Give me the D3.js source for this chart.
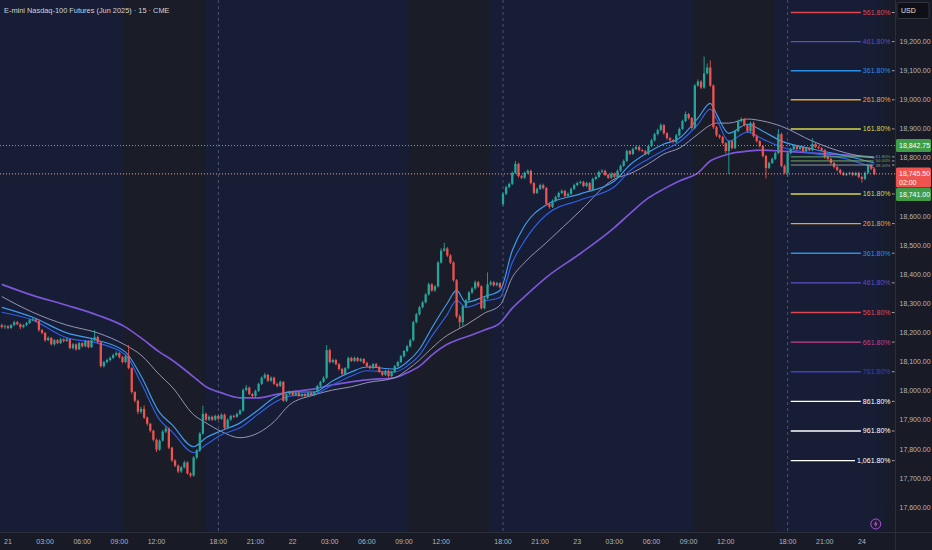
<!DOCTYPE html>
<html><head><meta charset="utf-8">
<script src="https://cdn.jsdelivr.net/npm/d3@7/dist/d3.min.js"></script>
<style>
html,body{margin:0;padding:0;background:#181b26;overflow:hidden}
svg{display:block;font-family:"Liberation Sans Narrow","Liberation Sans",Arial,sans-serif}
</style></head><body>
<svg id="c" width="932" height="550"></svg>
<script>
const title = "E-mini Nasdaq-100 Futures (Jun 2025) · 15 · CME";
const startDay = 20, startMinute = 23*60+30;   // first bar: 20th, 23:30 (15-min bars)

const opens = [18226,18219,18222,18216,18226,18236,18229,18219,18226,18233,
18243,18246,18240,18209,18199,18174,18182,18160,18174,18164,
18177,18171,18177,18147,18160,18143,18164,18153,18171,18150,
18174,18185,18167,18085,18099,18106,18113,18123,18130,18116,
18099,18119,18078,17996,17966,17928,17938,17908,17887,17863,
17832,17798,17829,17860,17870,17805,17761,17743,17723,17737,
17754,17716,17709,17771,17795,17853,17921,17901,17911,17901,
17914,17904,17918,17873,17901,17914,17911,17921,17932,18003,
18011,17989,17982,18000,18024,18045,18055,18035,18045,18024,
18017,18031,17966,17989,17996,17986,17993,17982,17989,17982,
17993,17986,17996,18017,18031,18045,18140,18099,18106,18092,
18075,18058,18078,18113,18103,18113,18103,18109,18096,18085,
18078,18092,18082,18065,18055,18069,18051,18065,18085,18099,
18119,18137,18153,18174,18236,18263,18287,18304,18331,18366,
18345,18359,18441,18482,18489,18465,18441,18380,18256,18236,
18290,18311,18338,18352,18373,18359,18284,18318,18366,18373,
18363,18370,18642,18677,18700,18711,18749,18780,18738,18732,
18749,18756,18714,18680,18694,18707,18697,18643,18632,18653,
18666,18680,18687,18670,18677,18694,18707,18714,18718,18704,
18714,18690,18728,18735,18752,18756,18742,18732,18746,18735,
18756,18773,18790,18824,18814,18831,18838,18827,18824,18814,
18841,18861,18882,18896,18913,18885,18868,18861,18855,18878,
18900,18927,18951,18937,18903,19049,19063,19042,19091,19111,
19049,18906,18878,18872,18851,18824,18858,18834,18892,18927,
18934,18913,18892,18920,18875,18858,18841,18807,18766,18783,
18797,18817,18882,18773,18749,18817,18831,18841,18831,18838,
18824,18834,18827,18848,18838,18834,18827,18803,18797,18783,
18769,18759,18749,18742,18746,18749,18742,18749,18735,18728,
18749,18776,18763];

const highs = [18231,18228,18226,18230,18241,18240,18232,18229,18237,18248,
18252,18250,18244,18213,18202,18187,18185,18178,18178,18182,
18181,18184,18180,18164,18163,18168,18167,18175,18174,18178,
18209,18190,18170,18103,18111,18118,18128,18136,18133,18120,
18124,18157,18081,17999,17970,17945,17950,17912,17890,17866,
17836,17833,17866,17878,17874,17808,17765,17747,17742,17760,
17758,17720,17775,17800,17858,17949,17925,17916,17915,17918,
17918,17923,17922,17905,17918,17918,17925,17937,18008,18020,
18015,17993,18004,18028,18050,18062,18058,18050,18049,18028,
18036,18034,17994,18001,18000,17998,17997,17993,17993,17997,
17997,18000,18021,18035,18050,18157,18145,18111,18110,18096,
18079,18082,18118,18117,18118,18117,18114,18113,18100,18089,
18096,18096,18086,18069,18073,18073,18069,18089,18103,18123,
18141,18158,18179,18241,18268,18292,18309,18336,18372,18370,
18364,18446,18490,18509,18494,18470,18445,18384,18262,18295,
18316,18343,18357,18379,18378,18363,18323,18407,18379,18378,
18375,18374,18682,18705,18716,18754,18790,18784,18742,18754,
18761,18760,18718,18699,18712,18712,18701,18647,18658,18671,
18685,18692,18691,18682,18699,18712,18719,18723,18722,18719,
18718,18733,18740,18757,18762,18760,18746,18751,18750,18761,
18778,18795,18829,18828,18836,18843,18842,18831,18828,18846,
18866,18887,18901,18920,18917,18889,18872,18865,18883,18905,
18932,18960,18955,18941,19055,19070,19067,19149,19125,19135,
19053,18910,18882,18876,18855,18862,18862,18897,18932,18940,
18938,18917,18925,18926,18880,18862,18845,18811,18788,18802,
18822,18900,18887,18778,18822,18836,18848,18845,18843,18842,
18839,18838,18868,18852,18842,18838,18831,18807,18801,18787,
18773,18763,18753,18750,18753,18753,18753,18753,18739,18754,
18781,18780,18767];

const lows = [18214,18213,18211,18212,18222,18225,18212,18215,18222,18230,
18239,18235,18203,18194,18168,18170,18156,18155,18160,18161,
18166,18168,18143,18142,18138,18140,18149,18150,18146,18147,
18170,18163,18080,18080,18095,18101,18110,18119,18111,18094,
18095,18074,17990,17960,17920,17922,17903,17880,17857,17826,
17790,17794,17825,17855,17800,17756,17738,17717,17718,17733,
17712,17702,17705,17766,17790,17849,17896,17897,17896,17897,
17900,17900,17867,17869,17897,17906,17907,17917,17928,17998,
17985,17977,17978,17996,18020,18041,18030,18031,18020,18012,
18013,17962,17962,17985,17982,17982,17978,17978,17978,17979,
17982,17982,17992,18013,18027,18041,18094,18095,18088,18070,
18053,18054,18074,18099,18099,18099,18099,18092,18081,18074,
18074,18078,18061,18050,18051,18046,18047,18061,18081,18095,
18115,18133,18149,18170,18232,18259,18283,18300,18327,18340,
18340,18355,18437,18478,18460,18436,18375,18250,18215,18222,
18285,18306,18333,18348,18354,18279,18280,18314,18361,18358,
18359,18352,18636,18672,18696,18707,18745,18733,18727,18728,
18744,18709,18675,18676,18690,18692,18638,18626,18628,18649,
18662,18676,18665,18665,18673,18690,18703,18710,18700,18700,
18685,18686,18724,18731,18748,18738,18728,18728,18731,18731,
18752,18769,18786,18810,18810,18827,18823,18820,18810,18810,
18837,18857,18878,18892,18880,18863,18856,18850,18851,18874,
18896,18923,18932,18898,18899,19045,19037,19038,19087,19044,
18900,18873,18866,18846,18815,18745,18829,18830,18888,18922,
18908,18887,18888,18870,18853,18836,18802,18730,18762,18779,
18793,18813,18768,18744,18735,18812,18827,18826,18827,18820,
18820,18823,18823,18834,18830,18823,18798,18792,18778,18764,
18754,18744,18738,18738,18741,18737,18738,18730,18715,18724,
18745,18758,18741];

const closes = [18219,18222,18216,18226,18236,18229,18219,18226,18233,18243,
18246,18240,18209,18199,18174,18182,18160,18174,18164,18177,
18171,18177,18147,18160,18143,18164,18153,18171,18150,18174,
18185,18167,18085,18099,18106,18113,18123,18130,18116,18099,
18119,18078,17996,17966,17928,17938,17908,17887,17863,17832,
17798,17829,17860,17870,17805,17761,17743,17723,17737,17754,
17716,17709,17771,17795,17853,17921,17901,17911,17901,17914,
17904,17918,17873,17901,17914,17911,17921,17932,18003,18011,
17989,17982,18000,18024,18045,18055,18035,18045,18024,18017,
18031,17966,17989,17996,17986,17993,17982,17989,17982,17993,
17986,17996,18017,18031,18045,18140,18099,18106,18092,18075,
18058,18078,18113,18103,18113,18103,18109,18096,18085,18078,
18092,18082,18065,18055,18069,18051,18065,18085,18099,18119,
18137,18153,18174,18236,18263,18287,18304,18331,18366,18345,
18359,18441,18482,18489,18465,18441,18380,18256,18236,18290,
18311,18338,18352,18373,18359,18284,18318,18366,18373,18363,
18370,18356,18677,18700,18711,18749,18780,18738,18732,18749,
18756,18714,18680,18694,18707,18697,18643,18632,18653,18666,
18680,18687,18670,18677,18694,18707,18714,18718,18704,18714,
18690,18728,18735,18752,18756,18742,18732,18746,18735,18756,
18773,18790,18824,18814,18831,18838,18827,18824,18814,18841,
18861,18882,18896,18913,18885,18868,18861,18855,18878,18900,
18927,18951,18937,18903,19049,19063,19042,19091,19111,19049,
18906,18878,18872,18851,18824,18858,18834,18892,18927,18934,
18913,18892,18920,18875,18858,18841,18807,18766,18783,18797,
18817,18882,18773,18749,18817,18831,18841,18831,18838,18824,
18834,18827,18848,18838,18834,18827,18803,18797,18783,18769,
18759,18749,18742,18746,18749,18742,18749,18735,18728,18749,
18776,18763,18745.5];

// moving averages, read at these bar indices
const maIdx  = [0,10,21,31,40,45,51,55,62,66,71,77,83,88,93,101,107,113,118,127,131,135,139,144,147,150,156,161,165,169,176,187,198,203,209,214,219,225,229,231,235,241,246,252,262,273,282];
const maLong = [18366,18328,18294,18260,18219,18182,18133,18106,18048,18014,17993,17976,17976,17986,17996,18007,18021,18031,18038,18045,18062,18085,18123,18160,18174,18185,18209,18233,18284,18324,18390,18472,18561,18609,18663,18694,18721,18749,18790,18800,18814,18824,18827,18824,18817,18810,18803];
const maMid  = [18324,18270,18226,18199,18157,18123,18055,18014,17918,17890,17860,17839,17856,17894,17952,17986,18003,18014,18028,18045,18072,18106,18147,18191,18209,18226,18267,18294,18390,18441,18509,18619,18728,18746,18780,18814,18834,18882,18913,18920,18920,18934,18927,18909,18858,18817,18800];
const maSlow = [18270,18243,18182,18164,18123,18028,17901,17860,17788,17815,17849,17873,17921,17959,17982,17989,18021,18051,18069,18065,18085,18123,18188,18263,18311,18287,18308,18321,18441,18516,18605,18656,18701,18756,18797,18827,18855,18916,18968,18934,18858,18889,18865,18838,18817,18797,18766];
const maFast = [18287,18253,18199,18174,18133,18051,17925,17884,17808,17839,17863,17890,17935,17976,17996,17996,18035,18065,18082,18075,18099,18143,18216,18301,18345,18304,18324,18345,18482,18568,18639,18677,18721,18776,18820,18848,18868,18937,18988,18951,18885,18916,18892,18858,18831,18807,18783];

// fibonacci extension levels
const fibStartBar = 255;
const fibLabels = ["561.80%","461.80%","361.80%","261.80%","161.80%","61.80%","50.00%","38.20%","161.80%","261.80%","361.80%","461.80%","561.80%","661.80%","761.80%","861.80%","961.80%","1,061.80%"];
const fibValues = [19300,19200,19100,19000,18900,18804,18790,18776,18676.5,18574.7,18472.9,18371.1,18269.3,18167.5,18065.7,17963.9,17862.1,17760.3];

const priceTicks = [17600,17700,17800,17900,18000,18100,18200,18300,18400,18500,18600,18700,18800,18900,19000,19100,19200];
const timeTickLabels = ["21","03:00","06:00","09:00","12:00","18:00","21:00","22","03:00","06:00","09:00","12:00","18:00","21:00","23","03:00","06:00","09:00","12:00","18:00","21:00","24"];

const highLine = 18842.75, lastPrice = 18745.50, countdown = "02:00", bidPrice = 18741.00;

// ---------- styles ----------
const fibColors = ["#e0474f","#5b4fcc","#2b8fe8","#e8a33a","#d9d64a","#5fae6a","#7fae5a","#8d9a8a","#d9d64a","#e8a33a","#2b8fe8","#5b4fcc","#e0474f","#c9408a","#3c3ec4","#ffffff","#ffffff","#ffffff"];
const UP = "#26a69a", DOWN = "#ef5350";
const AX_FONT = 7;

const W = 932, H = 550, plotR = 895, plotB = 532;
const svg = d3.select("#c");
const x = d3.scaleLinear().domain([-0.58, 288.7]).range([0, plotR]);
const y = d3.scaleLinear().domain([17515, 19343]).range([plotB, 0]);

// bar times
const bars = closes.map((c, i) => ({i, o: opens[i], h: highs[i], l: lows[i], c}));
{
  let d = startDay, m = startMinute;
  bars.forEach(b => {
    b.day = d; b.min = m;
    m += 15;
    if (m === 17*60) m = 18*60;
    if (m >= 1440) { m -= 1440; d++; }
  });
}
const pad = n => String(n).padStart(2, "0");
bars.forEach(b => {
  b.label = b.min % 60 === 0 ? (b.min === 0 ? String(b.day) : pad(b.min/60) + ":00") : null;
});

// background
svg.append("rect").attr("width", W).attr("height", H).attr("fill", "#181b26");
const defs = svg.append("defs");
defs.append("clipPath").attr("id", "clip").append("rect").attr("width", plotR).attr("height", plotB);
const grad = defs.append("linearGradient").attr("id", "fut").attr("x1", 0).attr("x2", 1);
grad.append("stop").attr("offset", 0).attr("stop-color", "#161d34");
grad.append("stop").attr("offset", 1).attr("stop-color", "#181b26");

const plot = svg.append("g").attr("clip-path", "url(#clip)");
plot.append("rect").attr("width", plotR).attr("height", plotB).attr("fill", "#161d34");

// regular-hours shading (09:30 - 16:00)
const rth = bars.filter(b => b.min >= 570 && b.min < 960);
d3.groups(rth, b => b.day).forEach(([, arr]) => {
  const x0 = x(arr[0].i - 0.5), x1 = x(arr[arr.length - 1].i + 0.5);
  plot.append("rect").attr("x", x0).attr("y", 0).attr("width", x1 - x0).attr("height", plotB).attr("fill", "#1a1c27");
});
{
  const last = bars[bars.length - 1];
  const x0 = x(last.i + 0.5);
  plot.append("rect").attr("x", x0).attr("y", 0).attr("width", plotR - x0).attr("height", plotB).attr("fill", "url(#fut)");
}

// session breaks
bars.filter(b => b.min === 18*60).forEach(b => {
  plot.append("line").attr("x1", x(b.i)).attr("x2", x(b.i)).attr("y1", 0).attr("y2", plotB)
    .attr("stroke", "#8e99b3").attr("stroke-opacity", 0.55).attr("stroke-width", 0.8).attr("stroke-dasharray", "3,3");
});

// moving averages
const maSeries = [
  {vals: maLong, color: "#7d55d9", w: 1.7},
  {vals: maMid,  color: "#a6a1c4", w: 0.9},
  {vals: maSlow, color: "#2f5fe6", w: 1.2},
  {vals: maFast, color: "#3d9bf0", w: 1.2}
];
const line = d3.line().curve(d3.curveMonotoneX);
maSeries.forEach(s => {
  plot.append("path").attr("d", line(maIdx.map((k, j) => [x(k), y(s.vals[j])])))
    .attr("fill", "none").attr("stroke", s.color).attr("stroke-width", s.w);
});

// candles
const bw = (x(1) - x(0)) * 0.74;
const cg = plot.append("g");
cg.selectAll("line").data(bars).join("line")
  .attr("x1", d => x(d.i)).attr("x2", d => x(d.i))
  .attr("y1", d => y(d.h)).attr("y2", d => y(d.l))
  .attr("stroke", d => d.c >= d.o ? UP : DOWN).attr("stroke-width", 0.9);
cg.selectAll("rect").data(bars).join("rect")
  .attr("x", d => x(d.i) - bw/2).attr("width", bw)
  .attr("y", d => y(Math.max(d.o, d.c)))
  .attr("height", d => Math.max(0.9, Math.abs(y(d.o) - y(d.c))))
  .attr("fill", d => d.c >= d.o ? UP : DOWN);

// dotted price lines
plot.append("line").attr("x1", 0).attr("x2", plotR).attr("y1", y(highLine)).attr("y2", y(highLine))
  .attr("stroke", "#66bb6a").attr("stroke-width", 1).attr("stroke-dasharray", "1,2");
plot.append("line").attr("x1", 0).attr("x2", plotR).attr("y1", y(lastPrice)).attr("y2", y(lastPrice))
  .attr("stroke", "#f0a08a").attr("stroke-width", 1).attr("stroke-dasharray", "1,2");

// fib levels
const fg = svg.append("g");
fibValues.forEach((v, k) => {
  const yy = y(v);
  const small = k >= 5 && k <= 7;
  const t = fg.append("text").attr("x", plotR - 4.5).attr("y", yy).attr("dy", "0.35em")
    .attr("text-anchor", "end").attr("font-size", small ? 4.4 : 7).attr("fill", fibColors[k]).text(fibLabels[k]);
  const tw = t.node().getComputedTextLength();
  fg.insert("line", "text").attr("x1", x(fibStartBar)).attr("x2", plotR - 4.5 - tw - 2)
    .attr("y1", yy).attr("y2", yy).attr("stroke", fibColors[k]).attr("stroke-width", small ? 1 : 1.4);
  fg.append("line").attr("x1", plotR - 3).attr("x2", plotR - 0.5).attr("y1", yy).attr("y2", yy)
    .attr("stroke", "#c8cbd3").attr("stroke-width", 0.8);
});

// axes frame
svg.append("line").attr("x1", plotR + 0.5).attr("x2", plotR + 0.5).attr("y1", 0).attr("y2", H).attr("stroke", "#2a2e39");
svg.append("line").attr("x1", 0).attr("x2", W).attr("y1", plotB + 0.5).attr("y2", plotB + 0.5).attr("stroke", "#2a2e39");

// price label boxes (positions follow the price scale, stacked when they collide)
const fmt = d3.format(",.2f");
const boxes = [];
{
  const b1 = {yc: y(highLine), h: 13, fill: "#3f9d4a", lines: [fmt(highLine)]};
  const b2 = {yc: y(lastPrice), h: 20, fill: "#ef5350", lines: [fmt(lastPrice), countdown]};
  const b3 = {yc: b2.yc - 6.5 + b2.h + 7, h: 13, fill: "#3f9d4a", lines: [fmt(bidPrice)]};
  boxes.push(b1, b2, b3);
}
const covered = v => boxes.some(b => y(v) > b.yc - 6.5 - 3 && y(v) < b.yc - 6.5 + b.h + 3);

// price axis
svg.append("g").selectAll("text").data(priceTicks.filter(v => !covered(v))).join("text")
  .attr("x", plotR + 4.5).attr("y", d => y(d)).attr("dy", "0.35em")
  .attr("font-size", AX_FONT).attr("fill", "#b2b5be").text(d => fmt(d));

// time axis
{
  const tickBars = [];
  let k = 0;
  bars.forEach(b => { if (k < timeTickLabels.length && b.label === timeTickLabels[k]) { tickBars.push(b); k++; } });
  svg.append("g").selectAll("text").data(tickBars).join("text")
    .attr("x", d => x(d.i)).attr("y", plotB + 10).attr("dy", "0.35em").attr("text-anchor", "middle")
    .attr("font-size", AX_FONT).attr("fill", "#b2b5be").text(d => d.label);
}

boxes.forEach(b => {
  const g = svg.append("g");
  g.append("rect").attr("x", plotR + 1).attr("y", b.yc - 6.5).attr("width", W - plotR - 2).attr("height", b.h).attr("rx", 1.5).attr("fill", b.fill);
  b.lines.forEach((s, j) => g.append("text").attr("x", plotR + 4).attr("y", b.yc + j * 8.5).attr("dy", "0.35em")
    .attr("font-size", AX_FONT).attr("fill", "#ffffff").text(s));
});

// currency box
svg.append("rect").attr("x", plotR + 2).attr("y", 2.5).attr("width", W - plotR - 5).attr("height", 16).attr("rx", 2)
  .attr("fill", "#0e1016").attr("stroke", "#3a3e4a").attr("stroke-width", 0.8);
svg.append("text").attr("x", plotR + 6).attr("y", 10.5).attr("dy", "0.35em").attr("font-size", AX_FONT).attr("fill", "#e0e3eb").text("USD");

// title
svg.append("text").attr("x", 4).attr("y", 10).attr("dy", "0.35em").attr("font-size", 7.4).attr("fill", "#d1d4dc").text(title);

// lightning icon
{
  const last = bars[bars.length - 1];
  const cx = x(last.i) + 1.5, cy = plotB - 8;
  svg.append("circle").attr("cx", cx).attr("cy", cy).attr("r", 5).attr("fill", "#231a33").attr("stroke", "#b04fe0").attr("stroke-width", 1);
  svg.append("path").attr("d", `M${cx+0.8},${cy-3.4} L${cx-1.8},${cy+0.4} L${cx-0.1},${cy+0.4} L${cx-0.8},${cy+3.4} L${cx+1.8},${cy-0.5} L${cx+0.1},${cy-0.5} Z`).attr("fill", "#c060f0");
}
</script>
</body></html>
